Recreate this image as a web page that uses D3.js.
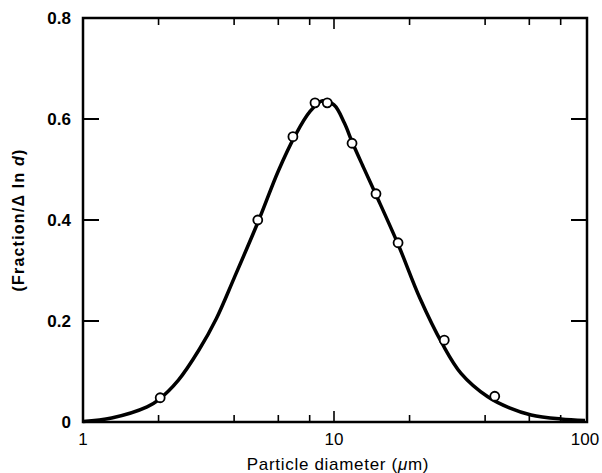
<!DOCTYPE html>
<html>
<head>
<meta charset="utf-8">
<script src="https://cdn.jsdelivr.net/npm/d3@7"></script>
<style>
  body { margin: 0; background: #fff; }
  text { font-family: "Liberation Sans", Arial, sans-serif; fill: #000; }
</style>
</head>
<body>
<div id="chart"></div>
<script>
// measured points (particle diameter in um, fraction / delta ln d)
var pointD = [2.03, 4.97, 6.86, 8.4, 9.4, 11.8, 14.7, 18.0, 27.5, 43.7];
var pointY = [0.048, 0.40, 0.565, 0.632, 0.632, 0.552, 0.452, 0.355, 0.162, 0.051];

// fitted curve
var curveD = [1, 1.3, 1.8, 2, 2.4, 2.9, 3.4, 4, 5, 6, 7, 8, 9, 10, 11, 11.8, 13, 14.7, 18, 22, 27, 32, 41, 50, 61, 80, 100];
var curveY = [0.001, 0.008, 0.03, 0.044, 0.083, 0.143, 0.205, 0.285, 0.398, 0.497, 0.567, 0.614, 0.636, 0.628, 0.592, 0.555, 0.508, 0.45, 0.352, 0.245, 0.155, 0.097, 0.05, 0.028, 0.014, 0.006, 0.003];

var yTicks = [0, 0.2, 0.4, 0.6, 0.8];
var xLabels = [1, 10, 100];
var xMinor = [2, 4, 6, 8, 20, 40, 60, 80];

var width = 602, height = 473;
var padL = 83, padR = 585, padT = 18, padB = 422;

var svg = d3.select("#chart").append("svg")
  .attr("width", width)
  .attr("height", height);

var x = d3.scaleLog().domain([1, 100]).range([padL, padR]);
var y = d3.scaleLinear().domain([0, 0.8]).range([padB, padT]);

// frame
svg.append("rect")
  .attr("x", padL).attr("y", padT)
  .attr("width", padR - padL + 2).attr("height", padB - padT)
  .attr("fill", "none").attr("stroke", "#000").attr("stroke-width", 2.5);

// inward ticks, bottom and top
var ticks = svg.append("g").attr("stroke", "#000").attr("stroke-width", 1.6);
xMinor.concat([10]).forEach(function(d) {
  var len = d == 10 ? 11 : 7;
  ticks.append("line").attr("x1", x(d)).attr("x2", x(d)).attr("y1", padB).attr("y2", padB - len);
  ticks.append("line").attr("x1", x(d)).attr("x2", x(d)).attr("y1", padT).attr("y2", padT + len);
});
// inward ticks, left and right
yTicks.slice(1, 4).forEach(function(v) {
  ticks.append("line").attr("x1", padL).attr("x2", padL + 16).attr("y1", y(v)).attr("y2", y(v)).attr("stroke-width", 2);
  ticks.append("line").attr("x1", padR + 2).attr("x2", padR - 14).attr("y1", y(v)).attr("y2", y(v)).attr("stroke-width", 2);
});

// y tick labels
svg.selectAll(".ylab").data(yTicks).enter().append("text")
  .attr("x", padL - 12)
  .attr("y", function(d) { return y(d) + 6; })
  .attr("text-anchor", "end")
  .attr("font-size", 17)
  .attr("font-weight", "bold")
  .text(function(d) { return d == 0 ? "0" : d3.format(".1f")(d); });

// x tick labels
svg.selectAll(".xlab").data(xLabels).enter().append("text")
  .attr("x", function(d) { return x(d); })
  .attr("y", padB + 23)
  .attr("text-anchor", "middle")
  .attr("font-size", 17)
  .text(function(d) { return d; });

// axis titles
svg.append("text")
  .attr("x", 338).attr("y", height - 3)
  .attr("text-anchor", "middle")
  .attr("font-size", 17)
  .attr("letter-spacing", 0.7)
  .html("Particle diameter (<tspan font-style='italic'>\u03bc</tspan>m)");

svg.append("text")
  .attr("transform", "translate(24," + 220 + ") rotate(-90)")
  .attr("text-anchor", "middle")
  .attr("font-size", 16)
  .attr("font-weight", "bold")
  .attr("letter-spacing", 1.2)
  .html("(Fraction/\u0394 ln <tspan font-style='italic'>d</tspan>)");

// curve
var line = d3.line()
  .x(function(d, i) { return x(curveD[i]); })
  .y(function(d) { return y(d); })
  .curve(d3.curveCatmullRom.alpha(0.5));

svg.append("path")
  .attr("d", line(curveY))
  .attr("fill", "none")
  .attr("stroke", "#000")
  .attr("stroke-width", 3.5);

// points
svg.selectAll(".pt").data(pointY).enter().append("circle")
  .attr("cx", function(d, i) { return x(pointD[i]); })
  .attr("cy", function(d) { return y(d); })
  .attr("r", 4.5)
  .attr("fill", "#fff")
  .attr("stroke", "#000")
  .attr("stroke-width", 1.8);
</script>
</body>
</html>
